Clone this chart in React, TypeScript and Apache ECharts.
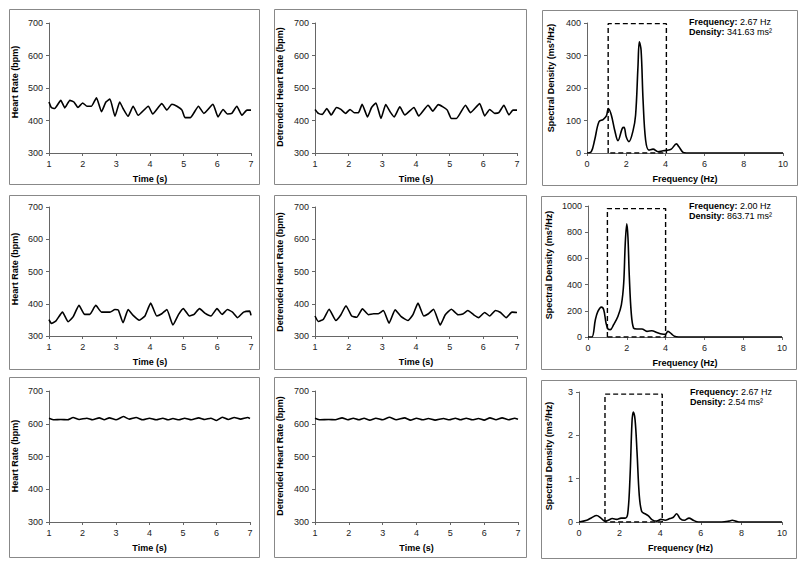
import React, { useEffect, useRef } from "react";
import * as echarts from "echarts";

// ---------- Data ----------
const hrRaw1: [number, number][] = [
  [1.0, 457], [1.07, 440], [1.17, 437], [1.35, 462], [1.47, 439], [1.62, 462], [1.74, 457], [1.86, 440],
  [2.0, 454], [2.13, 444], [2.26, 444], [2.41, 470], [2.56, 427], [2.69, 457], [2.81, 466], [2.96, 413],
  [3.1, 457], [3.2, 437], [3.35, 413], [3.5, 444], [3.65, 416], [3.95, 444], [4.08, 420], [4.35, 452],
  [4.5, 432], [4.65, 450], [4.8, 444], [4.95, 432], [5.04, 409], [5.2, 409], [5.44, 444], [5.6, 422],
  [5.87, 450], [6.02, 411], [6.17, 434], [6.3, 420], [6.43, 422], [6.58, 444], [6.73, 416], [6.88, 432],
  [7.0, 432],
];
const hrDet1: [number, number][] = [
  [1.0, 434], [1.1, 422], [1.22, 419], [1.35, 437], [1.48, 417], [1.64, 440], [1.77, 434], [1.91, 422],
  [2.04, 434], [2.17, 424], [2.29, 424], [2.4, 450], [2.56, 411], [2.68, 440], [2.81, 454], [2.96, 406],
  [3.1, 449], [3.23, 427], [3.35, 411], [3.52, 442], [3.67, 417], [3.94, 440], [4.08, 414], [4.36, 447],
  [4.5, 429], [4.66, 449], [4.8, 442], [4.93, 432], [5.05, 406], [5.2, 406], [5.47, 447], [5.62, 424],
  [5.89, 452], [6.04, 414], [6.19, 434], [6.34, 422], [6.46, 424], [6.61, 447], [6.76, 417], [6.88, 432],
  [7.0, 432],
];
const psd1: [number, number][] = [
  [0, 0], [0.22, 4], [0.39, 40], [0.61, 96], [0.82, 103], [0.99, 114], [1.09, 137], [1.24, 117],
  [1.41, 71], [1.58, 38], [1.8, 76], [1.89, 79], [2.0, 50], [2.14, 35], [2.35, 69], [2.48, 117],
  [2.6, 265], [2.67, 342], [2.76, 316], [2.86, 163], [2.99, 40], [3.16, 9], [3.37, 12], [3.62, 4],
  [3.88, 7], [4.05, 8], [4.3, 12], [4.56, 28], [4.69, 19], [4.9, 2], [5.07, 0], [10, 0],
];
const hrRaw2: [number, number][] = [
  [1.0, 351], [1.07, 339], [1.2, 346], [1.4, 374], [1.57, 344], [1.72, 360], [1.89, 395], [2.06, 367],
  [2.21, 367], [2.39, 395], [2.56, 374], [2.81, 374], [2.96, 382], [3.06, 380], [3.2, 341], [3.35, 382],
  [3.5, 364], [3.68, 349], [3.85, 362], [4.02, 402], [4.2, 362], [4.35, 369], [4.5, 382], [4.68, 334],
  [4.85, 367], [4.99, 385], [5.17, 362], [5.31, 367], [5.47, 385], [5.64, 370], [5.81, 362], [5.99, 385],
  [6.14, 367], [6.3, 382], [6.45, 374], [6.6, 357], [6.78, 374], [6.96, 377], [7.0, 364],
];
const hrDet2: [number, number][] = [
  [1.0, 362], [1.1, 345], [1.25, 352], [1.42, 383], [1.62, 348], [1.77, 366], [1.92, 394], [2.09, 362],
  [2.24, 358], [2.41, 384], [2.59, 366], [2.74, 369], [2.88, 369], [3.03, 379], [3.2, 340], [3.38, 381],
  [3.56, 360], [3.76, 348], [3.91, 366], [4.06, 402], [4.23, 362], [4.37, 369], [4.52, 383], [4.72, 334],
  [4.87, 366], [5.05, 383], [5.25, 366], [5.39, 368], [5.54, 379], [5.71, 366], [5.86, 357], [6.04, 373],
  [6.19, 362], [6.36, 379], [6.51, 373], [6.68, 357], [6.85, 374], [7.0, 373],
];
const psd2: [number, number][] = [
  [0, 0], [0.2, 0], [0.38, 132], [0.51, 195], [0.69, 228], [0.81, 208], [0.93, 106], [1.03, 61],
  [1.15, 56], [1.32, 94], [1.54, 157], [1.72, 246], [1.84, 410], [1.92, 714], [2.0, 864], [2.06, 760],
  [2.13, 461], [2.23, 182], [2.35, 68], [2.52, 61], [2.78, 61], [3.04, 43], [3.29, 48], [3.55, 35],
  [3.81, 23], [3.98, 20], [4.12, 43], [4.29, 25], [4.46, 5], [4.67, 0], [10, 0],
];
const hrRaw3: [number, number][] = [
  [1.0, 617], [1.15, 612], [1.35, 613], [1.55, 612], [1.72, 619], [1.9, 613], [2.13, 617], [2.3, 612],
  [2.5, 618], [2.65, 612], [2.8, 618], [3.0, 612], [3.22, 622], [3.4, 614], [3.6, 619], [3.8, 612],
  [4.0, 617], [4.2, 612], [4.4, 617], [4.55, 612], [4.7, 616], [4.88, 612], [5.05, 617], [5.25, 612],
  [5.47, 618], [5.65, 613], [5.83, 617], [6.0, 610], [6.17, 620], [6.35, 613], [6.53, 619], [6.72, 614],
  [6.93, 619], [7.0, 616],
];
const hrDet3: [number, number][] = [
  [1.0, 617], [1.15, 612], [1.4, 613], [1.6, 612], [1.8, 618], [1.97, 612], [2.13, 617], [2.3, 612],
  [2.45, 617], [2.62, 611], [2.8, 617], [3.0, 612], [3.2, 620], [3.4, 612], [3.65, 618], [3.82, 611],
  [4.0, 617], [4.18, 612], [4.35, 616], [4.55, 611], [4.8, 616], [4.97, 612], [5.15, 617], [5.3, 612],
  [5.47, 617], [5.65, 612], [5.83, 616], [6.0, 611], [6.17, 618], [6.35, 612], [6.53, 618], [6.72, 612],
  [6.9, 617], [7.0, 614],
];
const psd3: [number, number][] = [
  [0, 0], [0.38, 0.04], [0.62, 0.1], [0.87, 0.15], [1.08, 0.09], [1.28, 0.02], [1.44, 0.04], [1.64, 0.08],
  [1.86, 0.06], [2.07, 0.09], [2.27, 0.09], [2.4, 0.19], [2.51, 1.0], [2.61, 2.3], [2.67, 2.54], [2.76, 2.37],
  [2.86, 1.6], [2.97, 0.61], [3.09, 0.24], [3.25, 0.19], [3.42, 0.14], [3.61, 0.05], [3.83, 0.02], [4.04, 0.06],
  [4.24, 0.04], [4.48, 0.08], [4.65, 0.11], [4.81, 0.19], [4.98, 0.08], [5.19, 0.04], [5.42, 0.09], [5.63, 0.04],
  [5.88, 0], [7.03, 0], [7.39, 0.02], [7.55, 0.04], [7.72, 0.02], [7.93, 0], [10, 0],
];
// dashed band boxes: [xStart, xEnd, top]
const band1 = [1.08, 4.05, 398];
const band2 = [1.0, 4.0, 980];
const band3 = [1.28, 4.1, 2.95];

const peakFreq = ["2.67", "2.00", "2.67"];
const peakDensity = ["341.63", "863.71", "2.54"];

const timeRange = [1, 7, 1];
const hrRange = [300, 700, 100];
const freqRange = [0, 10, 2];
const psdRanges = [
  [0, 400, 100],
  [0, 1000, 200],
  [0, 3, 1],
];

// ---------- Layout ----------
const FONT = "Arial, 'Liberation Sans', Helvetica, sans-serif";

type Panel = {
  grid: { left: number; top: number; width: number; height: number };
  box: [number, number, number, number];
  kind: "time" | "freq";
  yTitle: string;
  yTitlePos: [number, number];
  yRange: number[];
  data: [number, number][];
  band?: number[];
  annot?: { x: number; y: number; freq: string; dens: string };
};

const panels: Panel[] = [
  { grid: { left: 49, top: 23, width: 202, height: 130 }, box: [9, 9, 250, 175], kind: "time", yTitle: "Heart Rate (bpm)", yTitlePos: [15, 82], yRange: hrRange, data: hrRaw1 },
  { grid: { left: 315, top: 23, width: 202, height: 130 }, box: [274, 9, 252, 175], kind: "time", yTitle: "Detrended Heart Rate (bpm)", yTitlePos: [280, 87], yRange: hrRange, data: hrDet1 },
  { grid: { left: 587, top: 23, width: 196, height: 130 }, box: [542, 10, 255, 175], kind: "freq", yTitle: "Spectral Density (ms²/Hz)", yTitlePos: [551, 78], yRange: psdRanges[0], data: psd1, band: band1, annot: { x: 689, y: 27, freq: peakFreq[0], dens: peakDensity[0] } },
  { grid: { left: 49, top: 207, width: 202, height: 129 }, box: [9, 195, 250, 174], kind: "time", yTitle: "Heart Rate (bpm)", yTitlePos: [15, 269], yRange: hrRange, data: hrRaw2 },
  { grid: { left: 315, top: 207, width: 202, height: 129 }, box: [274, 195, 252, 174], kind: "time", yTitle: "Detrended Heart Rate (bpm)", yTitlePos: [280, 272], yRange: hrRange, data: hrDet2 },
  { grid: { left: 588, top: 206, width: 194, height: 131 }, box: [541, 196, 255, 173], kind: "freq", yTitle: "Spectral Density (ms²/Hz)", yTitlePos: [549, 265], yRange: psdRanges[1], data: psd2, band: band2, annot: { x: 689, y: 211, freq: peakFreq[1], dens: peakDensity[1] } },
  { grid: { left: 49, top: 391, width: 201, height: 131 }, box: [9, 377, 250, 180], kind: "time", yTitle: "Heart Rate (bpm)", yTitlePos: [15, 456], yRange: hrRange, data: hrRaw3 },
  { grid: { left: 315, top: 391, width: 203, height: 131 }, box: [274, 377, 252, 180], kind: "time", yTitle: "Detrended Heart Rate (bpm)", yTitlePos: [280, 456], yRange: hrRange, data: hrDet3 },
  { grid: { left: 579, top: 392, width: 203, height: 130 }, box: [541, 380, 255, 178], kind: "freq", yTitle: "Spectral Density (ms²/Hz)", yTitlePos: [549, 456], yRange: psdRanges[2], data: psd3, band: band3, annot: { x: 690, y: 397, freq: peakFreq[2], dens: peakDensity[2] } },
];

export default function App() {
  const ref = useRef<HTMLDivElement>(null);

  useEffect(() => {
    const chart = echarts.init(ref.current!, null, { renderer: "svg" });

    const axisCommon = {
      axisLine: { show: true, lineStyle: { color: "#666", width: 1 } },
      axisTick: { show: true, length: 3, lineStyle: { color: "#666" } },
      axisLabel: { fontSize: 9, color: "#222", fontFamily: FONT, margin: 6, formatter: (v: number) => String(v) },
      splitLine: { show: false },
    };

    const grids = panels.map((p) => ({ ...p.grid, containLabel: false }));
    const xAxes = panels.map((p, i) => {
      const r = p.kind === "time" ? timeRange : freqRange;
      return {
        type: "value",
        gridIndex: i,
        min: r[0],
        max: r[1],
        interval: r[2],
        name: p.kind === "time" ? "Time (s)" : "Frequency (Hz)",
        nameLocation: "middle",
        nameGap: 21,
        nameTextStyle: { fontSize: 9, fontWeight: "bold", color: "#000", fontFamily: FONT, verticalAlign: "top" },
        ...axisCommon,
      };
    });
    const yAxes = panels.map((p, i) => ({
      type: "value",
      gridIndex: i,
      min: p.yRange[0],
      max: p.yRange[1],
      interval: p.yRange[2],
      ...axisCommon,
    }));

    const series: any[] = [];
    panels.forEach((p, i) => {
      series.push({
        type: "line",
        xAxisIndex: i,
        yAxisIndex: i,
        data: p.data,
        showSymbol: false,
        smooth: p.kind === "freq" ? 0.35 : 0.15,
        lineStyle: { color: "#000", width: 1.6 },
        z: 3,
      });
      if (p.band) {
        const [a, b, top] = p.band;
        series.push({
          type: "line",
          xAxisIndex: i,
          yAxisIndex: i,
          data: [[a, 0], [a, top], [b, top], [b, 0], [a, 0]],
          showSymbol: false,
          lineStyle: { color: "#000", width: 1.4, type: [5, 3] },
          z: 2,
        });
      }
    });

    const graphics: any[] = [];
    panels.forEach((p) => {
      const [x, y, w, h] = p.box;
      graphics.push({
        type: "rect",
        shape: { x: x + 0.5, y: y + 0.5, width: w, height: h },
        style: { fill: "none", stroke: "#888", lineWidth: 1 },
        silent: true,
        z: 0,
      });
      graphics.push({
        type: "text",
        x: p.yTitlePos[0],
        y: p.yTitlePos[1],
        rotation: Math.PI / 2,
        style: {
          text: p.yTitle,
          fontSize: 9,
          fontWeight: "bold",
          fontFamily: FONT,
          fill: "#000",
          align: "center",
          verticalAlign: "middle",
        },
        z: 5,
      });
      if (p.annot) {
        const a = p.annot;
        graphics.push({
          type: "text",
          x: a.x,
          y: a.y,
          style: {
            text: `{b|Frequency:} ${a.freq} Hz\n{b|Density:} ${a.dens} ms²`,
            fontSize: 9,
            fontFamily: FONT,
            fill: "#000",
            lineHeight: 10,
            verticalAlign: "middle",
            rich: { b: { fontWeight: "bold", fontSize: 9, fontFamily: FONT, fill: "#000" } },
          },
          z: 5,
        });
      }
    });

    chart.setOption({
      animation: false,
      backgroundColor: "#fff",
      grid: grids,
      xAxis: xAxes,
      yAxis: yAxes,
      series,
      graphic: graphics,
    });

    return () => chart.dispose();
  }, []);

  return (
    <div
      ref={ref}
      style={{ position: "absolute", left: 0, top: 0, width: 800, height: 564, background: "#fff" }}
    />
  );
}
